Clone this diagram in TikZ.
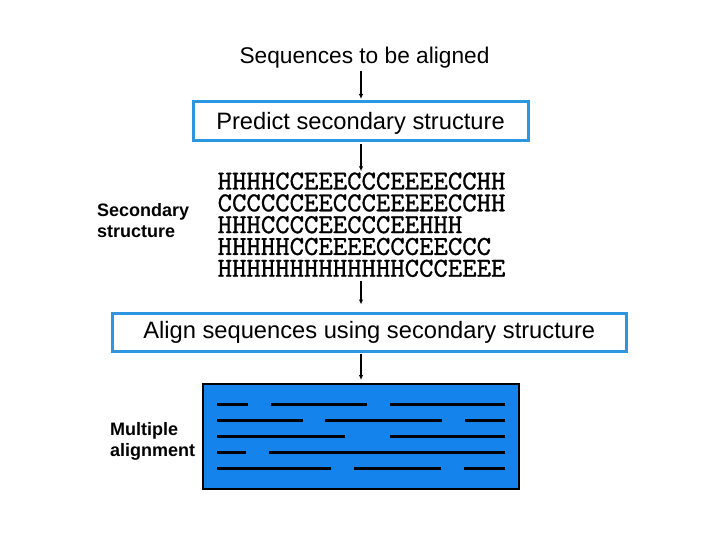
\documentclass[tikz,border=0pt]{standalone}
\usepackage{fontspec}
\setmainfont{Liberation Sans}
\newfontfamily\seqfont[FakeBold=1.0]{lmmono10-regular.otf}
\usetikzlibrary{arrows.meta}
\definecolor{boxblue}{RGB}{45,150,225}
\definecolor{alnblue}{RGB}{20,132,236}
\tikzset{
  arr/.style={line width=1.2pt,-{Latex[length=5pt,width=4.5pt]}},
  stepbox/.style={draw=boxblue,line width=3pt,fill=white,inner sep=0pt},
  sidelabel/.style={font=\fontsize{18}{21}\selectfont\bfseries,align=left,anchor=west,inner sep=0pt},
  alnline/.style={line width=3pt,draw=black},
  seqline/.style={font=\fontsize{27.4}{22}\selectfont\seqfont,anchor=base west,inner sep=0pt}
}
\begin{document}
\begin{tikzpicture}[x=1pt,y=-1pt]
\useasboundingbox (0,0) rectangle (720,540);
\fill[white] (0,0) rectangle (720,540);
% title
\node[font=\fontsize{22.7}{26}\selectfont,inner sep=0pt] (title) at (364.5,57.5) {Sequences to be aligned};
% predict box
\node[stepbox,minimum width=335pt,minimum height=39pt,text depth=2pt,font=\fontsize{23.7}{27}\selectfont] (predict) at (360.5,121.5) {Predict secondary structure};
% sequences
\node[seqline] (s1) at (217.5,189.5) {HHHHCCEEECCCEEEECCHH};
\node[seqline] (s2) at (217.5,211.3) {CCCCCCEECCCEEEEECCHH};
\node[seqline] (s3) at (217.5,233.1) {HHHCCCCEECCCEEHHH};
\node[seqline] (s4) at (217.5,254.9) {HHHHHCCEEEECCCEECCC};
\node[seqline] (s5) at (217.5,276.7) {HHHHHHHHHHHHHCCCEEEE};
\node[sidelabel] (seclab) at (97,221) {Secondary\\structure};
% align box
\node[stepbox,minimum width=513.5pt,minimum height=38pt,font=\fontsize{23.7}{27}\selectfont] (align) at (369.25,332) {Align sequences using secondary structure};
% alignment box
\node[draw=black,fill=alnblue,line width=2pt,minimum width=316pt,minimum height=105pt,inner sep=0pt] (maln) at (361,436.5) {};
\node[sidelabel] (mallab) at (110,441) {Multiple\\alignment};
% alignment lines
\draw[alnline] (216.7,404) -- (247.7,404) (271,404) -- (366.7,404) (390,404) -- (505,404);
\draw[alnline] (216.7,420.3) -- (302.7,420.3) (325,420.3) -- (441.7,420.3) (465,420.3) -- (505,420.3);
\draw[alnline] (216.7,436) -- (345,436) (390,436) -- (505,436);
\draw[alnline] (216.7,452) -- (245.7,452) (269,452) -- (505,452);
\draw[alnline] (216.7,468.3) -- (330.7,468.3) (354,468.3) -- (440.7,468.3) (464,468.3) -- (505,468.3);
% arrows
\coordinate (ax) at (361,0);
\draw[arr] (ax |- title.south) ++(0,3) -- ([yshift=1.5pt]ax |- predict.north);
\draw[arr] ([yshift=-1.5pt]ax |- predict.south) -- ([yshift=1pt]ax |- s1.north);
\draw[arr] ([yshift=-4pt]ax |- s5.base) -- ([yshift=7pt]ax |- align.north);
\draw[arr] ([yshift=-1.5pt]ax |- align.south) -- ([yshift=3pt]maln.north);
\end{tikzpicture}
\end{document}
